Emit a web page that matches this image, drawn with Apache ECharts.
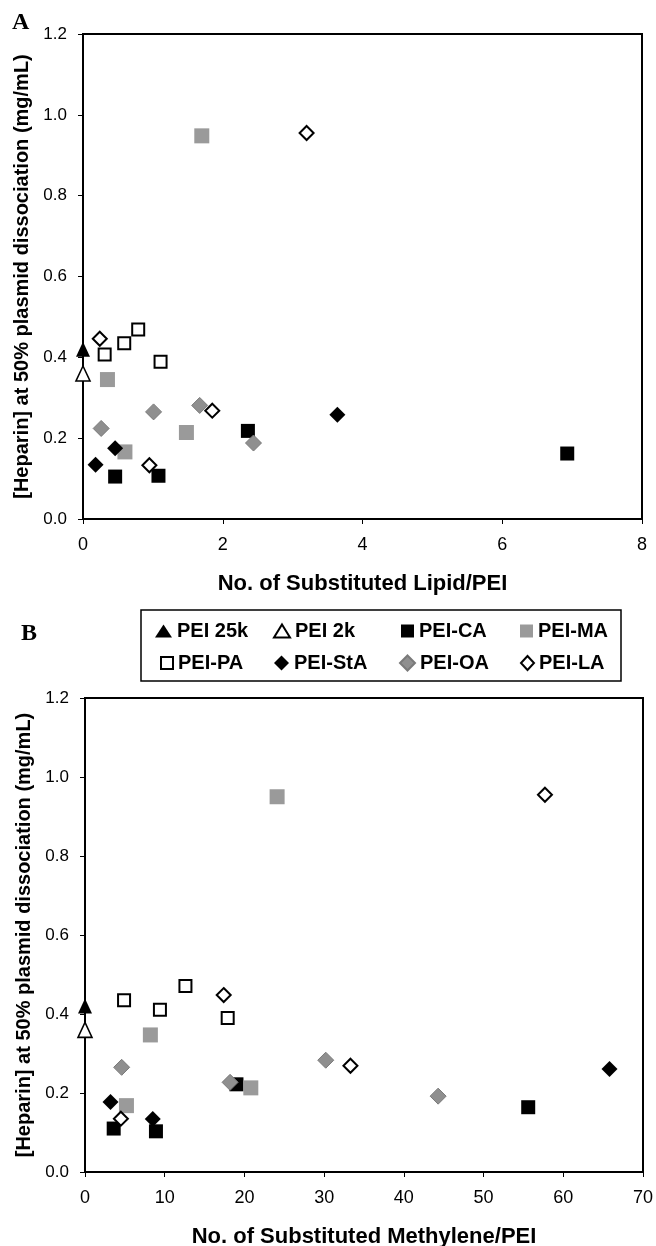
<!DOCTYPE html>
<html>
<head>
<meta charset="utf-8">
<script src="https://cdn.jsdelivr.net/npm/echarts@6/dist/echarts.min.js"></script>
<style>
  html, body { margin: 0; padding: 0; background: #fff; }
  #chart { width: 656px; height: 1246px; }
</style>
</head>
<body>
<div id="chart"></div>
<script>
// series names, same order in both panels
const seriesNames = ['PEI 25k', 'PEI 2k', 'PEI-CA', 'PEI-MA', 'PEI-PA', 'PEI-StA', 'PEI-OA', 'PEI-LA'];

// panel A: no. of substituted lipid/PEI vs [heparin]
const lipid25k = [[0, 0.42]];
const lipid2k = [[0, 0.36]];
const lipidCA = [[0.46, 0.105], [1.08, 0.107], [2.36, 0.218], [6.93, 0.162]];
const lipidMA = [[0.35, 0.345], [0.60, 0.166], [1.48, 0.214], [1.70, 0.948]];
const lipidPA = [[0.31, 0.407], [0.59, 0.435], [0.79, 0.469], [1.11, 0.389]];
const lipidStA = [[0.18, 0.134], [0.46, 0.175], [3.64, 0.258]];
const lipidOA = [[0.26, 0.224], [1.01, 0.265], [1.67, 0.281], [2.44, 0.188]];
const lipidLA = [[0.24, 0.446], [0.95, 0.133], [1.85, 0.268], [3.20, 0.955]];

// panel B: no. of substituted methylene/PEI vs [heparin]
const meth25k = [[0, 0.42]];
const meth2k = [[0, 0.36]];
const methCA = [[3.6, 0.110], [8.9, 0.103], [19.0, 0.222], [55.6, 0.164]];
const methMA = [[5.2, 0.168], [8.2, 0.347], [20.8, 0.213], [24.1, 0.950]];
const methPA = [[4.9, 0.435], [9.4, 0.411], [12.6, 0.471], [17.9, 0.390]];
const methStA = [[3.2, 0.177], [8.5, 0.134], [65.8, 0.261]];
const methOA = [[4.6, 0.265], [18.2, 0.227], [30.2, 0.283], [44.3, 0.192]];
const methLA = [[4.5, 0.135], [17.4, 0.448], [33.3, 0.269], [57.7, 0.955]];

const panelA = [lipid25k, lipid2k, lipidCA, lipidMA, lipidPA, lipidStA, lipidOA, lipidLA];
const panelB = [meth25k, meth2k, methCA, methMA, methPA, methStA, methOA, methLA];

// tick values
const yTicks = [0, 0.2, 0.4, 0.6, 0.8, 1.0, 1.2];
const xTicksA = [0, 2, 4, 6, 8];
const xTicksB = [0, 10, 20, 30, 40, 50, 60, 70];

// marker look per series (size in plot, legend icon w/h)
const markers = {
    'PEI 25k': { symbol: 'triangle', size: [14, 15], color: '#000', border: '#000', bw: 0, lw: 17, lh: 13 },
    'PEI 2k': { symbol: 'triangle', size: [14, 15], color: '#fff', border: '#000', bw: 1.6, lw: 16, lh: 13 },
    'PEI-CA': { symbol: 'rect', size: 14, color: '#000', border: '#000', bw: 0, lw: 13, lh: 13 },
    'PEI-MA': { symbol: 'rect', size: 15, color: '#9a9a9a', border: '#9a9a9a', bw: 0, lw: 13, lh: 13 },
    'PEI-PA': { symbol: 'rect', size: 12, color: '#fff', border: '#000', bw: 2, lw: 12, lh: 12 },
    'PEI-StA': { symbol: 'diamond', size: 16, color: '#000', border: '#000', bw: 0, lw: 15, lh: 15 },
    'PEI-OA': { symbol: 'diamond', size: 16, color: '#8f8f8f', border: '#7a7a7a', bw: 1, lw: 15, lh: 15 },
    'PEI-LA': { symbol: 'diamond', size: 14, color: '#fff', border: '#000', bw: 2, lw: 13, lh: 14 }
};

const font = 'Liberation Sans, Arial, sans-serif';

function makeSeries(dataSets, axisIndex) {
    return seriesNames.map((name, i) => {
        const m = markers[name];
        return {
            name: name,
            type: 'scatter',
            xAxisIndex: axisIndex,
            yAxisIndex: axisIndex,
            data: dataSets[i],
            symbol: m.symbol,
            symbolSize: m.size,
            clip: false,
            itemStyle: { color: m.color, borderColor: m.border, borderWidth: m.bw, opacity: 1 },
            emphasis: { disabled: true }
        };
    });
}

function xAxis(gridIndex, ticks, title) {
    return {
        type: 'value',
        gridIndex: gridIndex,
        min: ticks[0],
        max: ticks[ticks.length - 1],
        interval: ticks[1] - ticks[0],
        name: title,
        nameLocation: 'middle',
        nameGap: 54,
        nameTextStyle: { fontFamily: font, fontWeight: 'bold', fontSize: 22, color: '#000' },
        axisLine: { show: true, onZero: false, lineStyle: { color: '#000', width: 2 } },
        axisTick: { show: true, inside: false, length: 5, lineStyle: { color: '#000', width: 1 } },
        axisLabel: { fontFamily: font, fontSize: 18, color: '#000', margin: 17 },
        splitLine: { show: false }
    };
}

function yAxis(gridIndex) {
    return {
        type: 'value',
        gridIndex: gridIndex,
        min: yTicks[0],
        max: yTicks[yTicks.length - 1],
        interval: 0.2,
        name: '[Heparin] at 50% plasmid dissociation (mg/mL)',
        nameLocation: 'middle',
        nameGap: 49,
        nameTextStyle: { fontFamily: font, fontWeight: 'bold', fontSize: 20, color: '#000' },
        axisLine: { show: true, onZero: false, lineStyle: { color: '#000', width: 2 } },
        axisTick: { show: true, inside: false, length: 5, lineStyle: { color: '#000', width: 1 } },
        axisLabel: { fontFamily: font, fontSize: 17, color: '#000', margin: 16, formatter: v => v.toFixed(1) },
        splitLine: { show: false }
    };
}

// legend: one component per entry, laid out in a 4 x 2 table (x = where the text starts)
const legendTextX = [177, 294, 419, 538];
const legendRows = [631, 663];
const legends = seriesNames.map((name, i) => {
    const m = markers[name];
    return {
        data: [{ name: name, icon: m.symbol }],
        left: legendTextX[i % 4] - m.lw - 5,
        top: legendRows[Math.floor(i / 4)] - 10,
        itemWidth: m.lw,
        itemHeight: m.lh,
        symbolKeepAspect: false,
        itemGap: 0,
        padding: 0,
        selectedMode: false,
        textStyle: { fontFamily: font, fontWeight: 'bold', fontSize: 20, color: '#000', lineHeight: 20 }
    };
});

const chart = echarts.init(document.getElementById('chart'), null, { renderer: 'canvas' });

const panelLetter = { fontFamily: 'Liberation Serif, serif', fontWeight: 'bold', fontSize: 24, color: '#000' };

const option = {
    animation: false,
    backgroundColor: '#fff',
    title: [
        { text: 'A', left: 12, top: 11, padding: 0, textStyle: panelLetter },
        { text: 'B', left: 21, top: 622, padding: 0, textStyle: panelLetter }
    ],
    legend: legends,
    grid: [
        { left: 83, top: 34, width: 559, height: 485, outerBoundsMode: 'none', show: true, borderColor: '#000', borderWidth: 2, backgroundColor: 'transparent' },
        { left: 85, top: 698, width: 558, height: 474, outerBoundsMode: 'none', show: true, borderColor: '#000', borderWidth: 2, backgroundColor: 'transparent' }
    ],
    xAxis: [
        xAxis(0, xTicksA, 'No. of Substituted Lipid/PEI'),
        xAxis(1, xTicksB, 'No. of Substituted Methylene/PEI')
    ],
    yAxis: [yAxis(0), yAxis(1)],
    graphic: [
        {
            type: 'rect',
            shape: { x: 141, y: 610, width: 480, height: 71 },
            style: { fill: 'transparent', stroke: '#000', lineWidth: 1.5 },
            silent: true
        }
    ],
    series: makeSeries(panelA, 0).concat(makeSeries(panelB, 1))
};

chart.setOption(option);
</script>
</body>
</html>
